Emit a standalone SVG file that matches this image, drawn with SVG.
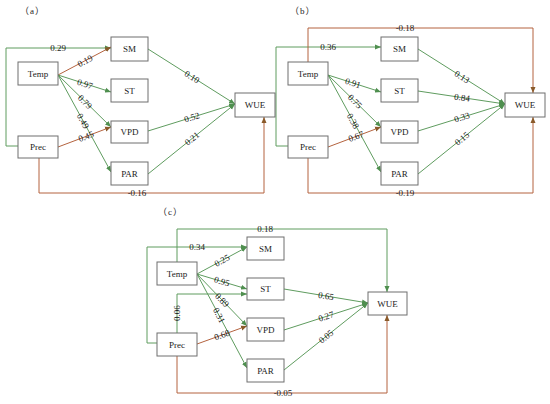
<svg xmlns="http://www.w3.org/2000/svg" width="550" height="404" viewBox="0 0 550 404">
<style>
.box{fill:#fff;stroke:#6e6e6e;stroke-width:1}
.nt{font-family:"Liberation Serif","Times New Roman",serif;font-size:9px;fill:#222;text-anchor:middle;dominant-baseline:central}
.el{font-family:"Liberation Serif","Times New Roman",serif;font-size:9px;fill:#222;text-anchor:middle;dominant-baseline:central}
.pl{font-family:"Liberation Serif","Noto Sans CJK SC",serif;font-size:9px;fill:#222;letter-spacing:1px}
.g{fill:none;stroke:#5f9c5f;stroke-width:1;marker-end:url(#mg)}
.r{fill:none;stroke:#b4633f;stroke-width:1;marker-end:url(#mr)}
</style>
<defs>
<marker id="mg" markerUnits="userSpaceOnUse" markerWidth="6" markerHeight="6" refX="6" refY="3" orient="auto"><path d="M0,0.5 L6,3 L0,5.5 z" fill="#4f8f4f"/></marker>
<marker id="mr" markerUnits="userSpaceOnUse" markerWidth="6" markerHeight="6" refX="6" refY="3" orient="auto"><path d="M0,0.5 L6,3 L0,5.5 z" fill="#8a5a2a"/></marker>
</defs>
<rect width="550" height="404" fill="#fff"/>
<text class="pl" x="20" y="14">（a）</text>
<text class="pl" x="290" y="14">（b）</text>
<text class="pl" x="158" y="215">（c）</text>

<g id="connectors">
<!-- (a) -->
<polyline class="g" points="18,146 6,146 6,48 111,48"/>
<line class="r" x1="58" y1="75" x2="111" y2="47"/>
<line class="g" x1="58" y1="75" x2="111" y2="92"/>
<line class="g" x1="58" y1="75" x2="111" y2="127"/>
<line class="g" x1="58" y1="75" x2="111" y2="172"/>
<line class="r" x1="58" y1="147" x2="111" y2="127"/>
<line class="g" x1="148" y1="49" x2="235" y2="104"/>
<line class="g" x1="148" y1="131" x2="235" y2="104"/>
<line class="g" x1="148" y1="174" x2="235" y2="104"/>
<polyline class="r" points="39,158 39,193 264,193 264,117"/>
<!-- (b) -->
<polyline class="g" points="288,146 276,146 276,47 381,47"/>
<polyline class="r" points="308,62 308,28 533,28 533,93"/>
<line class="g" x1="328" y1="75" x2="381" y2="92"/>
<line class="g" x1="328" y1="75" x2="381" y2="127"/>
<line class="g" x1="328" y1="75" x2="381" y2="172"/>
<line class="r" x1="328" y1="147" x2="381" y2="127"/>
<line class="g" x1="418" y1="49" x2="505" y2="104"/>
<line class="g" x1="418" y1="91" x2="505" y2="104"/>
<line class="g" x1="418" y1="131" x2="505" y2="104"/>
<line class="g" x1="418" y1="174" x2="505" y2="104"/>
<polyline class="r" points="308,158 308,193 533,193 533,117"/>
<!-- (c) -->
<polyline class="g" points="157,343 147,343 147,247 247,247"/>
<polyline class="g" points="177,262 177,229 387,229 387,292"/>
<polyline class="g" points="177,333 177,294 247,294"/>
<line class="g" x1="197" y1="274" x2="247" y2="247"/>
<line class="g" x1="197" y1="274" x2="247" y2="289"/>
<line class="g" x1="197" y1="274" x2="247" y2="326"/>
<line class="g" x1="197" y1="274" x2="247" y2="368"/>
<line class="r" x1="197" y1="344" x2="247" y2="326"/>
<line class="g" x1="284" y1="289" x2="368" y2="303"/>
<line class="g" x1="284" y1="330" x2="368" y2="303"/>
<line class="g" x1="284" y1="370" x2="368" y2="303"/>
<polyline class="r" points="177,356 177,393 387,393 387,315"/>

<!-- labels (a) -->
<text class="el" x="58" y="48">0.29</text>
<text class="el" transform="translate(85,61) rotate(-27.8)">0.19</text>
<text class="el" transform="translate(85,84) rotate(17.8)">0.97</text>
<text class="el" transform="translate(85,102) rotate(44.5)">0.79</text>
<text class="el" transform="translate(83,121) rotate(61.3)">0.49</text>
<text class="el" transform="translate(86,136.5) rotate(-20.7)">0.45</text>
<text class="el" transform="translate(192,77) rotate(32.3)">0.10</text>
<text class="el" transform="translate(192,117.3) rotate(-17.2)">0.52</text>
<text class="el" transform="translate(192,138.6) rotate(-38.8)">0.21</text>
<text class="el" x="137" y="193">-0.16</text>
<!-- labels (b) -->
<text class="el" x="328" y="47">0.36</text>
<text class="el" x="405" y="28">-0.18</text>
<text class="el" transform="translate(353,83) rotate(17.8)">0.91</text>
<text class="el" transform="translate(355,101.5) rotate(44.5)">0.75</text>
<text class="el" transform="translate(353,121) rotate(61.3)">0.38</text>
<text class="el" transform="translate(356,136.5) rotate(-20.7)">0.67</text>
<text class="el" transform="translate(462,77) rotate(32.3)">0.13</text>
<text class="el" transform="translate(462,97.6) rotate(8.5)">0.84</text>
<text class="el" transform="translate(462,117.3) rotate(-17.2)">0.33</text>
<text class="el" transform="translate(462,138.6) rotate(-38.8)">0.15</text>
<text class="el" x="405" y="193">-0.19</text>
<!-- labels (c) -->
<text class="el" x="197" y="247">0.34</text>
<text class="el" x="265" y="229">0.18</text>
<text class="el" transform="translate(177,313) rotate(-90)">0.06</text>
<text class="el" transform="translate(222,260.5) rotate(-28.4)">0.25</text>
<text class="el" transform="translate(222,281.5) rotate(16.7)">0.95</text>
<text class="el" transform="translate(222,300) rotate(46.1)">0.89</text>
<text class="el" transform="translate(219,315.4) rotate(62)">0.31</text>
<text class="el" transform="translate(222,335) rotate(-19.8)">0.68</text>
<text class="el" transform="translate(326,296) rotate(9.5)">0.65</text>
<text class="el" transform="translate(326,316.5) rotate(-17.8)">0.27</text>
<text class="el" transform="translate(326,336.5) rotate(-38.6)">0.05</text>
<text class="el" x="283" y="393">-0.05</text>
</g>

<!-- (a) nodes -->
<g id="a-temp"><rect class="box" x="18" y="62" width="40" height="23"/><text class="nt" x="38" y="73.5">Temp</text></g>
<g id="a-prec"><rect class="box" x="18" y="136" width="40" height="22"/><text class="nt" x="38" y="147">Prec</text></g>
<g id="a-sm"><rect class="box" x="111" y="37" width="37" height="24"/><text class="nt" x="129.5" y="49">SM</text></g>
<g id="a-st"><rect class="box" x="111" y="79" width="37" height="23"/><text class="nt" x="129.5" y="90.5">ST</text></g>
<g id="a-vpd"><rect class="box" x="111" y="121" width="37" height="22"/><text class="nt" x="129.5" y="132">VPD</text></g>
<g id="a-par"><rect class="box" x="111" y="162" width="37" height="23"/><text class="nt" x="129.5" y="173.5">PAR</text></g>
<g id="a-wue"><rect class="box" x="235" y="93" width="40" height="24"/><text class="nt" x="255" y="105">WUE</text></g>
<!-- (b) nodes -->
<g id="b-temp"><rect class="box" x="288" y="62" width="40" height="23"/><text class="nt" x="308" y="73.5">Temp</text></g>
<g id="b-prec"><rect class="box" x="288" y="136" width="40" height="22"/><text class="nt" x="308" y="147">Prec</text></g>
<g id="b-sm"><rect class="box" x="381" y="37" width="37" height="24"/><text class="nt" x="399.5" y="49">SM</text></g>
<g id="b-st"><rect class="box" x="381" y="79" width="37" height="23"/><text class="nt" x="399.5" y="90.5">ST</text></g>
<g id="b-vpd"><rect class="box" x="381" y="121" width="37" height="22"/><text class="nt" x="399.5" y="132">VPD</text></g>
<g id="b-par"><rect class="box" x="381" y="162" width="37" height="23"/><text class="nt" x="399.5" y="173.5">PAR</text></g>
<g id="b-wue"><rect class="box" x="505" y="93" width="40" height="24"/><text class="nt" x="525" y="105">WUE</text></g>
<!-- (c) nodes -->
<g id="c-temp"><rect class="box" x="157" y="262" width="40" height="23"/><text class="nt" x="177" y="273.5">Temp</text></g>
<g id="c-prec"><rect class="box" x="157" y="333" width="40" height="23"/><text class="nt" x="177" y="344.5">Prec</text></g>
<g id="c-sm"><rect class="box" x="247" y="237" width="37" height="23"/><text class="nt" x="265.5" y="248.5">SM</text></g>
<g id="c-st"><rect class="box" x="247" y="278" width="37" height="22"/><text class="nt" x="265.5" y="289">ST</text></g>
<g id="c-vpd"><rect class="box" x="247" y="318" width="37" height="23"/><text class="nt" x="265.5" y="329.5">VPD</text></g>
<g id="c-par"><rect class="box" x="247" y="359" width="37" height="23"/><text class="nt" x="265.5" y="370.5">PAR</text></g>
<g id="c-wue"><rect class="box" x="368" y="292" width="39" height="23"/><text class="nt" x="387.5" y="303.5">WUE</text></g>
</svg>
